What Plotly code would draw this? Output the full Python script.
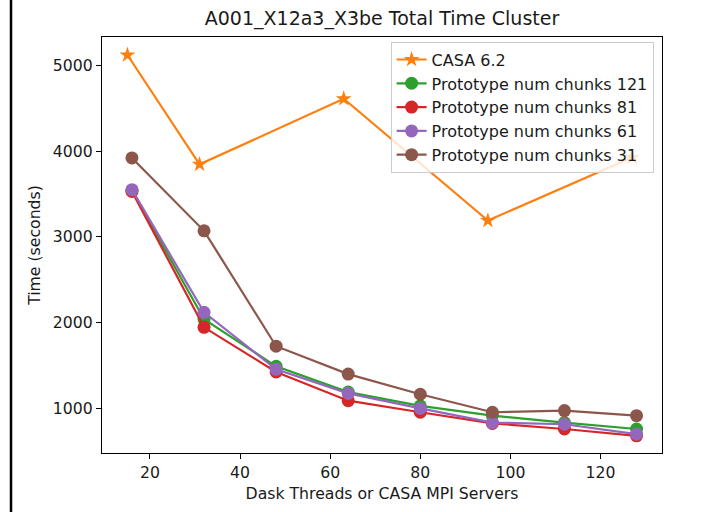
import plotly.graph_objects as go

# ---- data ----
casa_x = [15, 31, 63, 95, 127]
casa_y = [5120, 3845, 4610, 3190, 3925]

proto_x = [16, 32, 48, 64, 80, 96, 112, 128]
chunks121 = [3540, 2040, 1490, 1190, 1030, 915, 835, 760]
chunks81 = [3530, 1945, 1425, 1090, 955, 825, 760, 680]
chunks61 = [3550, 2120, 1455, 1175, 1000, 835, 815, 700]
chunks31 = [3920, 3070, 1725, 1400, 1165, 955, 975, 915]

series = [
    ("Prototype num chunks 121", chunks121, "#2ca02c"),
    ("Prototype num chunks 81", chunks81, "#d62728"),
    ("Prototype num chunks 61", chunks61, "#9467bd"),
    ("Prototype num chunks 31", chunks31, "#8c564b"),
]

x_ticks = [20, 40, 60, 80, 100, 120]
y_ticks = [1000, 2000, 3000, 4000, 5000]

FONT = "DejaVu Sans"
TXT = "#1a1a1a"

fig = go.Figure()
fig.add_trace(go.Scatter(
    x=casa_x, y=casa_y, name="CASA 6.2", mode="lines+markers",
    line=dict(color="#ff7f0e", width=2.2),
    marker=dict(symbol="star", size=12, color="#ff7f0e", line=dict(width=0)),
))
for name, vals, col in series:
    fig.add_trace(go.Scatter(
        x=proto_x, y=vals, name=name, mode="lines+markers",
        line=dict(color=col, width=2.2),
        marker=dict(symbol="circle", size=13, color=col, line=dict(width=0)),
    ))

axis_common = dict(
    showline=True, linecolor="black", linewidth=1.2, mirror=True,
    ticks="outside", ticklen=5, tickwidth=1.2, tickcolor="black",
    showgrid=False, zeroline=False,
    tickfont=dict(family=FONT, size=15.7, color=TXT),
)

fig.update_layout(
    width=717, height=512,
    margin=dict(l=102, r=55, t=37, b=59),
    paper_bgcolor="white", plot_bgcolor="white",
    font=dict(family=FONT, color=TXT),
    title=dict(text="A001_X12a3_X3be Total Time Cluster",
               x=0.5, xref="paper", xanchor="center",
               y=1 - 18 / 512, yref="container", yanchor="middle",
               font=dict(family=FONT, size=19, color=TXT)),
    xaxis=dict(range=[9.35, 133.65], tickvals=x_ticks,
               title=dict(text="Dask Threads or CASA MPI Servers",
                          font=dict(family=FONT, size=15.7, color=TXT),
                          standoff=7),
               **axis_common),
    yaxis=dict(range=[480, 5330], tickvals=y_ticks,
               title=dict(text="Time (seconds)",
                          font=dict(family=FONT, size=15.7, color=TXT),
                          standoff=8),
               **axis_common),
    legend=dict(x=0.985, y=0.989, xanchor="right", yanchor="top",
                bgcolor="rgba(255,255,255,0.8)", bordercolor="#cccccc",
                borderwidth=1, font=dict(family=FONT, size=16, color=TXT),
                itemsizing="trace", tracegroupgap=0),
    showlegend=True,
)

# left black border line of the screenshot
fig.add_shape(type="line", xref="paper", yref="paper",
              x0=(11 - 102) / 560, x1=(11 - 102) / 560, y0=-0.16, y1=1.1,
              line=dict(color="black", width=2.5))

fig.write_html("out.html")
